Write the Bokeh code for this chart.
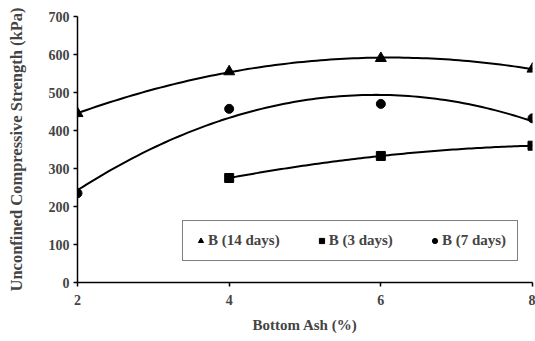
import numpy as np
from bokeh.plotting import figure
from bokeh.models import Range1d, FixedTicker, Legend, LegendItem
from bokeh.embed import file_html
from bokeh.resources import INLINE

# Data
x14 = [2, 4, 6, 8]
y14 = [445, 555, 590, 562]
x3 = [4, 6, 8]
y3 = [275, 333, 360]
x7 = [2, 4, 6, 8]
y7 = [235, 457, 470, 432]
x_ticks = [2, 4, 6, 8]
y_ticks = [0, 100, 200, 300, 400, 500, 600, 700]

FONT = "Liberation Serif"

p = figure(width=535, height=341, output_backend="svg", toolbar_location=None,
           x_range=Range1d(2, 8), y_range=Range1d(0, 700))
p.min_border_left = 77
p.min_border_right = 3
p.min_border_top = 16
p.min_border_bottom = 59
p.outline_line_color = None
p.xgrid.visible = False
p.ygrid.visible = False

def trend(xs, ys):
    c = np.polyfit(xs, ys, 2)
    xx = np.linspace(min(xs), max(xs), 100)
    return xx, np.polyval(c, xx)

for xs, ys in [(x14, y14), (x7, y7), (x3, y3)]:
    xx, yy = trend(xs, ys)
    p.line(xx, yy, line_color="black", line_width=2)

r14 = p.scatter(x14, y14, marker="triangle", size=11, color="black")
r3 = p.scatter(x3, y3, marker="square", size=9, color="black")
r7 = p.scatter(x7, y7, marker="circle", size=9, color="black")

legend = Legend(items=[LegendItem(label="B (14 days)", renderers=[r14]),
                       LegendItem(label="B (3 days)", renderers=[r3]),
                       LegendItem(label="B (7 days)", renderers=[r7])],
                location=(105, 21), orientation="horizontal")
legend.label_text_font = FONT
legend.label_text_font_style = "bold"
legend.label_text_font_size = "15px"
legend.label_standoff = 1
legend.glyph_width = 13
legend.glyph_height = 15
legend.spacing = 35
legend.padding = 11
legend.margin = 0
legend.border_line_color = "black"
legend.border_line_width = 1.5
legend.background_fill_alpha = 1
p.add_layout(legend, "center")

for ax in (p.xaxis[0], p.yaxis[0]):
    ax.axis_line_width = 1.5
    ax.axis_line_color = "black"
    ax.major_tick_line_color = "black"
    ax.major_tick_line_width = 1.5
    ax.major_tick_out = 4
    ax.major_tick_in = 0
    ax.minor_tick_line_color = None
    ax.major_label_text_font = FONT
    ax.major_label_text_font_style = "bold"
    ax.major_label_text_font_size = "14px"
    ax.axis_label_text_font = FONT
    ax.axis_label_text_font_style = "bold"
    ax.axis_label_text_font_size = "15px"

p.yaxis.axis_label_text_font_size = "16.5px"
p.xaxis.ticker = FixedTicker(ticks=x_ticks)
p.yaxis.ticker = FixedTicker(ticks=y_ticks)
p.xaxis.axis_label = "Bottom Ash (%)"
p.yaxis.axis_label = "Unconfined Compressive Strength (kPa)"
p.xaxis.major_label_standoff = 8
p.xaxis.axis_label_standoff = 9
p.yaxis.major_label_standoff = 4
p.yaxis.axis_label_standoff = 20

open("out.html", "w").write(file_html(p, INLINE))
